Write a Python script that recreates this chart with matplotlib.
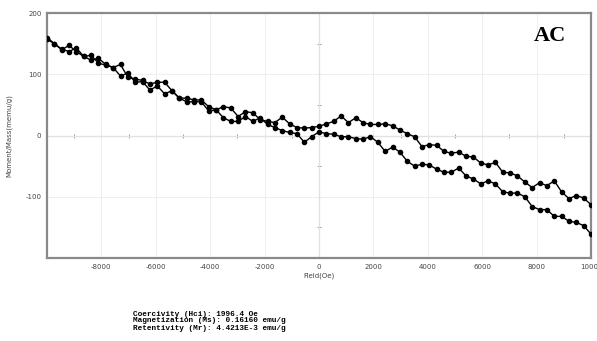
import numpy as np
import matplotlib
matplotlib.use("Agg")
import matplotlib.pyplot as plt
from matplotlib.ticker import MultipleLocator

plt.rcParams["axes.unicode_minus"] = False

# Field sweep (Oe)
field = [-10000, -9730, -9459, -9189, -8919, -8649, -8378, -8108, -7838, -7568,
         -7297, -7027, -6757, -6486, -6216, -5946, -5676, -5405, -5135, -4865,
         -4595, -4324, -4054, -3784, -3514, -3243, -2973, -2703, -2432, -2162,
         -1892, -1622, -1351, -1081, -811, -541, -270, 0, 270, 541,
         811, 1081, 1351, 1622, 1892, 2162, 2432, 2703, 2973, 3243,
         3514, 3784, 4054, 4324, 4595, 4865, 5135, 5405, 5676, 5946,
         6216, 6486, 6757, 7027, 7297, 7568, 7838, 8108, 8378, 8649,
         8919, 9189, 9459, 9730, 10000]

# Moment/Mass (memu/g), upper branch (higher at positive field)
branch_upper = [160, 150, 140, 147, 137, 129, 131, 118, 115, 111,
                116, 95, 92, 90, 84, 87, 87, 73, 61, 61,
                58, 58, 47, 42, 47, 45, 31, 39, 37, 26,
                23, 21, 30, 19, 13, 12, 13, 15, 19, 23,
                32, 21, 29, 21, 18, 18, 19, 16, 9, 3,
                -2, -18, -15, -16, -26, -29, -27, -34, -35, -45,
                -48, -44, -60, -61, -66, -76, -85, -77, -82, -74,
                -92, -103, -98, -102, -113]

# lower branch
branch_lower = [157, 150, 141, 137, 143, 129, 123, 126, 116, 111,
                97, 102, 87, 88, 74, 81, 68, 73, 61, 55,
                55, 55, 40, 42, 29, 23, 23, 31, 23, 29,
                18, 13, 8, 5, 3, -11, -2, 6, 3, 2,
                -2, -2, -5, -6, -2, -11, -26, -19, -27, -42,
                -50, -47, -48, -55, -60, -60, -53, -66, -71, -79,
                -74, -79, -92, -94, -94, -100, -116, -121, -121, -132,
                -132, -140, -142, -147, -161]

x_ticks = [-8000, -6000, -4000, -2000, 0, 2000, 4000, 6000, 8000, 10000]
y_ticks = [-100, 0, 100, 200]

info_lines = ["Coercivity (Hci): 1996.4 Oe",
              "Magnetization (Ms): 0.16160 emu/g",
              "Retentivity (Mr): 4.4213E-3 emu/g"]

fig = plt.figure(figsize=(5.97, 3.41), dpi=100)
pos = [47 / 597, 1 - 258 / 341, (591 - 47) / 597, (258 - 13) / 341]

# background axes: zero-crossing axis lines with small ticks
ax2 = fig.add_axes(pos)
ax2.set_xlim(-10000, 10000)
ax2.set_ylim(-200, 200)
for k in ["top", "right"]:
    ax2.spines[k].set_visible(False)
ax2.spines["left"].set_position(("data", 0))
ax2.spines["bottom"].set_position(("data", 0))
for k in ["left", "bottom"]:
    ax2.spines[k].set_color("#aaaaaa")
    ax2.spines[k].set_linewidth(0.8)
ax2.xaxis.set_major_locator(MultipleLocator(1000))
ax2.yaxis.set_major_locator(MultipleLocator(50))
ax2.tick_params(direction="inout", length=3, width=0.6, color="#999999",
                labelleft=False, labelbottom=False)

# main axes
ax = fig.add_axes(pos)
ax.patch.set_visible(False)
ax.set_xlim(-10000, 10000)
ax.set_ylim(-200, 200)
ax.set_xticks(x_ticks)
ax.set_yticks(y_ticks)
ax.tick_params(length=0, labelsize=5, labelcolor="#444444", pad=4)
ax.grid(True, color="#ececec", lw=0.6)
for s in ax.spines.values():
    s.set_color("#8a8a8a")
    s.set_linewidth(1.6)

ax.plot(field, branch_upper, color="black", lw=1.0, marker="o", ms=3.0, zorder=3)
ax.plot(field, branch_lower, color="black", lw=1.0, marker="o", ms=3.0, zorder=3)

ax.set_xlabel("Field(Oe)", fontsize=5, color="#444444", labelpad=2)
ax.set_ylabel("Moment/Mass(memu/g)", fontsize=5, color="#444444")
ax.yaxis.set_label_coords(-(47 - 12) / 544, 0.5)

ax.text(0.955, 0.905, "AC", transform=ax.transAxes, ha="right", va="center",
        fontsize=16, fontweight="bold", family="Liberation Serif")

for i, line in enumerate(info_lines):
    fig.text(133 / 597, 1 - (314 + 7 * i) / 341, line, ha="left", va="center",
             fontsize=5.6, fontweight="bold", family="Liberation Mono")

fig.savefig("out.png", dpi=100)
